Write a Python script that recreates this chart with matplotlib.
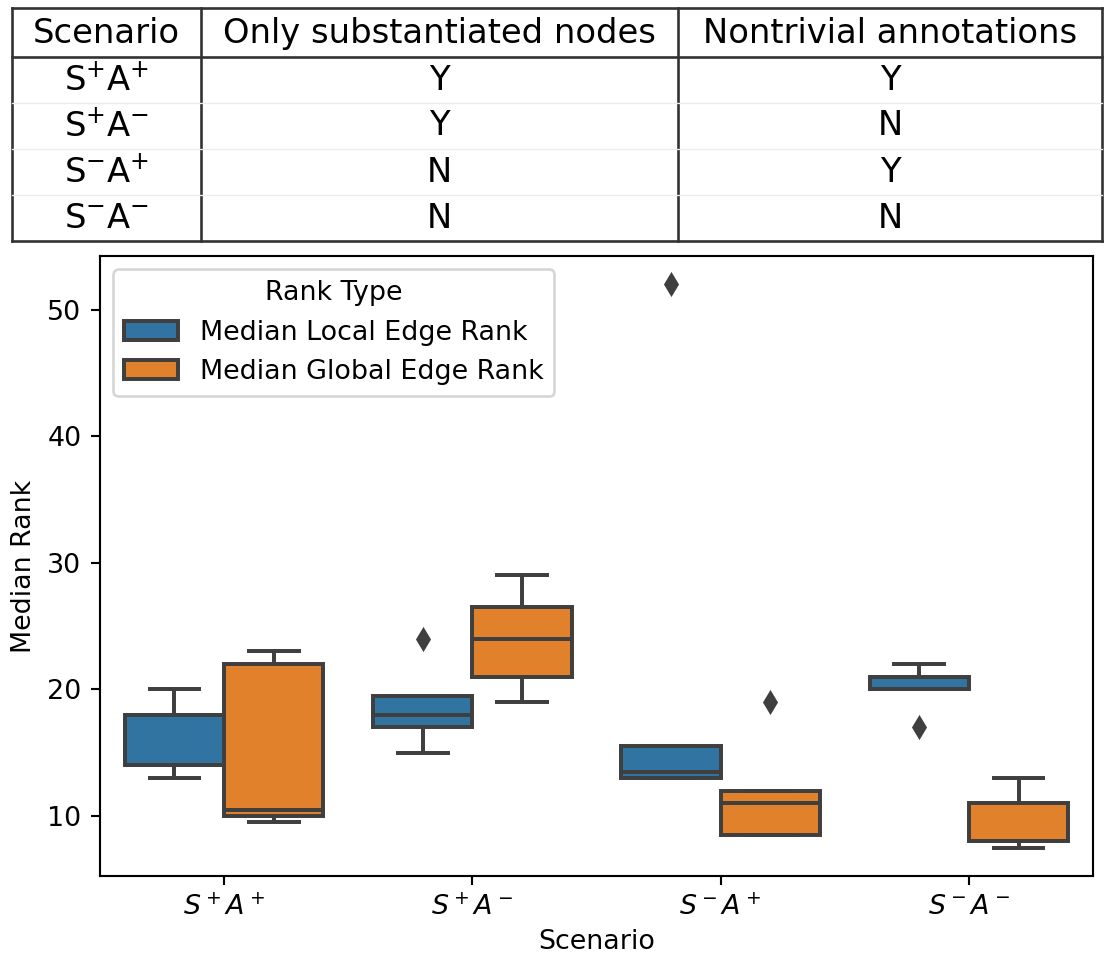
import numpy as np
import pandas as pd
import matplotlib
matplotlib.use("Agg")
import matplotlib.pyplot as plt
import seaborn as sns

# --- data ---
scenarios = ["$S^+A^+$", "$S^+A^-$", "$S^-A^+$", "$S^-A^-$"]
rank_types = ["Median Local Edge Rank", "Median Global Edge Rank"]
local_rank = [
    [13, 14, 14, 18, 20],
    [15, 17, 18, 19.5, 24],
    [13, 13, 13.5, 15.5, 52],
    [17, 20, 20, 21, 22],
]
global_rank = [
    [9.5, 10, 10.5, 22, 23],
    [19, 21, 24, 26.5, 29],
    [8.5, 8.5, 11, 12, 19],
    [7.5, 8, 8, 11, 13],
]

# table contents
table_header = ["Scenario", "Only substantiated nodes", "Nontrivial annotations"]
table_scen = [r"$\mathrm{S^{+}A^{+}}$", r"$\mathrm{S^{+}A^{-}}$",
              r"$\mathrm{S^{-}A^{+}}$", r"$\mathrm{S^{-}A^{-}}$"]
only_subst = ["Y", "Y", "N", "N"]
nontrivial = ["Y", "N", "Y", "N"]

rows = []
for scen, loc, glo in zip(scenarios, local_rank, global_rank):
    for v in loc:
        rows.append((scen, rank_types[0], v))
    for v in glo:
        rows.append((scen, rank_types[1], v))
df = pd.DataFrame(rows, columns=["Scenario", "Rank Type", "Median Rank"])

plt.rcParams["font.size"] = 10.2

W, H, DPI = 1107, 955, 190
fig = plt.figure(figsize=(W / DPI, H / DPI), dpi=DPI)

# --- boxplot ---
ax = fig.add_axes([100 / W, 1 - 876 / H, (1093 - 100) / W, (876 - 256) / H])
sns.boxplot(data=df, x="Scenario", y="Median Rank", hue="Rank Type",
            order=scenarios, hue_order=rank_types, ax=ax,
            palette=["#1f77b4", "#ff7f0e"], saturation=0.75,
            linewidth=1.5, linecolor="#3f3f3f",
            flierprops=dict(marker="d", markersize=5.5,
                            markerfacecolor="#3f3f3f", markeredgecolor="#3f3f3f"))
ax.legend(title="Rank Type", loc="upper left")
ax.set_xlabel("Scenario", labelpad=3)
ax.set_ylabel("Median Rank")
ax.set_yticks([10, 20, 30, 40, 50])

# --- table drawn on top ---
tx0, tx1 = 12, 1102
col_x = [12, 201, 678, 1102]
ty_top, ty_head, ty_bot = 8, 57, 241
fx = lambda x: x / W
fy = lambda y: 1 - y / H
lw = 1.0
fig.add_artist(plt.Line2D([fx(tx0), fx(tx1)], [fy(ty_top)] * 2, color="#333333", lw=lw))
fig.add_artist(plt.Line2D([fx(tx0), fx(tx1)], [fy(ty_head)] * 2, color="#333333", lw=lw))
fig.add_artist(plt.Line2D([fx(tx0), fx(tx1)], [fy(ty_bot)] * 2, color="#333333", lw=lw))
for cx in col_x:
    fig.add_artist(plt.Line2D([fx(cx)] * 2, [fy(ty_top), fy(ty_bot)], color="#333333", lw=lw))
row_h = (ty_bot - ty_head) / 4
for i in range(1, 4):
    yy = ty_head + i * row_h
    fig.add_artist(plt.Line2D([fx(tx0), fx(tx1)], [fy(yy)] * 2, color="#ececec", lw=0.5))

centers = [(col_x[i] + col_x[i + 1]) / 2 for i in range(3)]
for c, txt in zip(centers, table_header):
    fig.text(fx(c), fy((ty_top + ty_head) / 2 + 1), txt, ha="center", va="center", fontsize=12.8)
for r in range(4):
    yc = fy(ty_head + (r + 0.5) * row_h)
    for c, txt in zip(centers, [table_scen[r], only_subst[r], nontrivial[r]]):
        fig.text(fx(c), yc, txt, ha="center", va="center", fontsize=12.8)

fig.savefig("out.png", dpi=DPI)
